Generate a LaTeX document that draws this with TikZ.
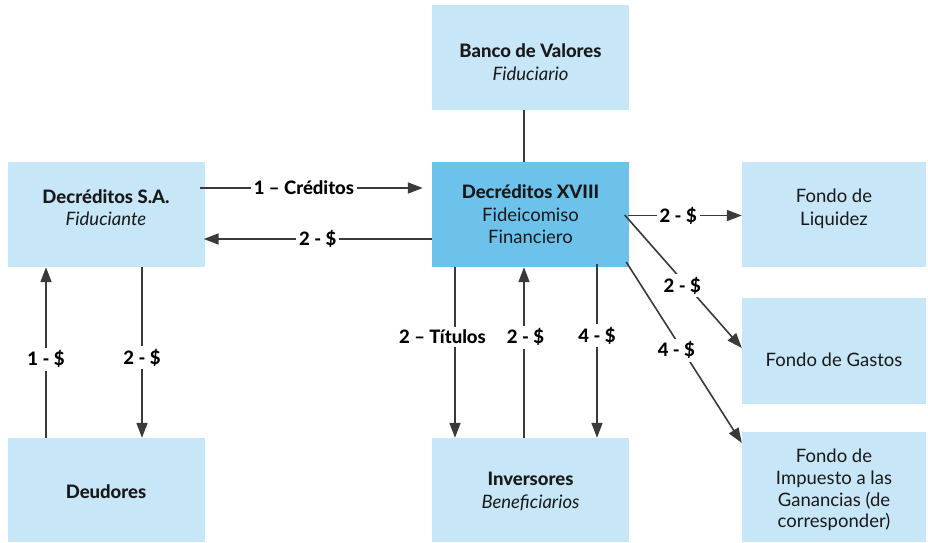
\documentclass[tikz,border=0pt]{standalone}
\usepackage{fontspec}
\setmainfont{Lato}[BoldFont={Lato Heavy}]
\usetikzlibrary{arrows.meta}
\definecolor{boxlight}{RGB}{199,230,247}
\definecolor{boxdark}{RGB}{108,194,235}
\definecolor{linegray}{RGB}{58,58,58}
\definecolor{txt}{RGB}{25,25,25}
\tikzset{
  box/.style={rectangle, fill=boxlight, draw=none, minimum width=197pt, minimum height=105pt, inner sep=0pt},
  fbox/.style={box, minimum width=184pt},
  darkbox/.style={box, fill=boxdark},
  boxtext/.style={align=center, text=txt, inner sep=0pt, font=\fontsize{18.5}{22.5}\selectfont},
  conn/.style={draw=linegray, line width=1.6pt},
  arr/.style={conn, -{Triangle[length=15pt,width=11pt]}},
  lbl/.style={fill=white, inner sep=3pt, text=black, font=\fontsize{18.5}{21}\selectfont\bfseries}
}
\begin{document}
\begin{tikzpicture}[x=1pt,y=-1pt]
\useasboundingbox (0,0) rectangle (928,542);
\fill[white] (0,0) rectangle (928,542);

\node[box] (banco) at (530.5,57) {};
\node[darkbox] (xviii) at (530.5,214.5) {};
\node[box] (dsa) at (106,214.5) {};
\node[fbox] (liq) at (834,214.5) {};
\node[fbox, minimum height=106pt] (gastos) at (834,351) {};
\node[fbox, minimum height=110pt] (imp) at (834,487) {};
\node[box, minimum height=104pt] (deud) at (106,490) {};
\node[box, minimum height=104pt] (inv) at (530.5,490) {};

\node[boxtext, yshift=-5pt] (bancoT) at (banco) {\textbf{Banco de Valores}\\\textit{Fiduciario}};
\node[boxtext] (xviiiT) at (xviii) {\textbf{Decréditos XVIII}\\Fideicomiso\\Financiero};
\node[boxtext, yshift=7pt] (dsaT) at (dsa) {\textbf{Decréditos S.A.}\\\textit{Fiduciante}};
\node[boxtext, yshift=5.5pt] (liqT) at (liq) {Fondo de\\Liquidez};
\node[boxtext, yshift=-9pt] (gastosT) at (gastos) {Fondo de Gastos};
\node[boxtext, yshift=-3pt, font=\fontsize{18.5}{21.7}\selectfont] (impT) at (imp) {Fondo de\\Impuesto a las\\Ganancias (de\\corresponder)};
\node[boxtext, yshift=-1.5pt] (deudT) at (deud) {\textbf{Deudores}};
\node[boxtext, yshift=-1.5pt] (invT) at (inv) {\textbf{Inversores}\\\textit{Beneficiarios}};

% Banco - XVIII
\draw[conn] ([xshift=-6.5pt]banco.south) -- ([xshift=-6.5pt]xviii.north);

% Decreditos SA <-> XVIII
\draw[arr] ([xshift=-4.5pt,yshift=26.5pt]dsa.east) -- ([xshift=-9pt,yshift=26.5pt]xviii.west)
  node[lbl,pos=0.466] (l1) {1 – Créditos};
\draw[arr] ([yshift=-24.5pt]xviii.west) -- ([xshift=-1pt,yshift=-24.5pt]dsa.east)
  node[lbl,pos=0.5] (l2) {2 - \$};

% XVIII -> Fondos
\draw[arr] ([xshift=-1pt,yshift=-1pt]xviii.east) -- ([yshift=-1pt]liq.west)
  node[lbl,pos=0.44] (l3) {2 - \$};
\draw[arr] ([xshift=-4.5pt,yshift=-0.5pt]xviii.east) -- ([yshift=3pt]gastos.west)
  node[lbl,pos=0.5,xshift=-1pt,yshift=-4pt] (l4) {2 - \$};
\draw[arr] ([xshift=-3pt,yshift=-47.5pt]xviii.east) -- ([yshift=44pt]imp.west)
  node[lbl,pos=0.46,xshift=-3pt,yshift=-5pt] (l5) {4 - \$};

% XVIII <-> Inversores
\draw[arr] ([xshift=-75.5pt]xviii.south) -- ([xshift=-75.5pt]inv.north)
  node[lbl,pos=0.41,xshift=-12.5pt] (l6) {2 – Títulos};
\draw[arr] ([xshift=-6.5pt]inv.north) -- ([xshift=-6.5pt]xviii.south)
  node[lbl,pos=0.59,xshift=1.5pt] (l7) {2 - \$};
\draw[arr] ([xshift=66.5pt,yshift=3pt]xviii.south) -- ([xshift=66.5pt]inv.north)
  node[lbl,pos=0.41] (l8) {4 - \$};

% Decreditos SA <-> Deudores
\draw[arr] ([xshift=-60pt]deud.north) -- ([xshift=-60pt]dsa.south)
  node[lbl,pos=0.46] (l9) {1 - \$};
\draw[arr] ([xshift=36pt]dsa.south) -- ([xshift=36pt]deud.north)
  node[lbl,pos=0.53] (l10) {2 - \$};
\end{tikzpicture}
\end{document}
